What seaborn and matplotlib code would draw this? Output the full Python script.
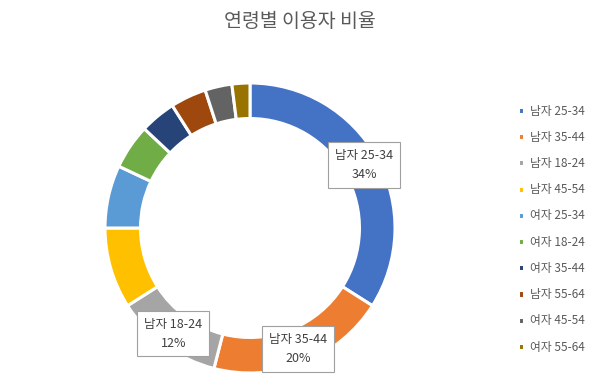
import matplotlib
matplotlib.use('Agg')
import matplotlib.pyplot as plt
import seaborn as sns
import numpy as np

# 데이터
categories = ['남자 25-34', '남자 35-44', '남자 18-24', '남자 45-54', '여자 25-34',
              '여자 18-24', '여자 35-44', '남자 55-64', '여자 45-54', '여자 55-64']
values = [34, 20, 12, 9, 7, 5, 4, 4, 3, 2]
colors = ['#4472C4', '#ED7D31', '#A5A5A5', '#FFC000', '#5B9BD5',
          '#70AD47', '#264478', '#9E480E', '#636363', '#997300']
labeled = ['남자 25-34', '남자 35-44', '남자 18-24']

sns.set_theme(style='white')
plt.rcParams['font.family'] = ['Noto Sans CJK KR', 'DejaVu Sans']

fig = plt.figure(figsize=(6, 3.85), dpi=100)
ax = fig.add_axes([105 / 600, 12 / 385, 290 / 600, 290 / 385])

palette = sns.color_palette(colors)
wedges, _ = ax.pie(values, colors=palette, startangle=90, counterclock=False,
                   radius=1.0, wedgeprops=dict(width=0.245, edgecolor='white', linewidth=2.2))
ax.set_xlim(-1, 1)
ax.set_ylim(-1, 1)
ax.set_aspect('equal')

total = sum(values)
for w, cat, v in zip(wedges, categories, values):
    if cat not in labeled:
        continue
    ang = np.deg2rad((w.theta1 + w.theta2) / 2)
    r = 0.9
    ax.text(r * np.cos(ang), r * np.sin(ang), f'{cat}\n{v / total * 100:.0f}%',
            ha='center', va='center', fontsize=9, color='#404040', linespacing=1.6,
            bbox=dict(boxstyle='square,pad=0.55', facecolor='white', edgecolor='#A0A0A0', linewidth=0.8))

fig.text(0.5, 0.945, '연령별 이용자 비율', ha='center', va='center', fontsize=14, color='#595959')

leg = fig.legend(wedges, categories, loc='center left', bbox_to_anchor=(0.845, 0.405),
                 frameon=False, fontsize=8.5, labelcolor='#595959',
                 handlelength=0.55, handleheight=0.55, handletextpad=0.5, labelspacing=1.12)

fig.savefig('out.png', dpi=100)
